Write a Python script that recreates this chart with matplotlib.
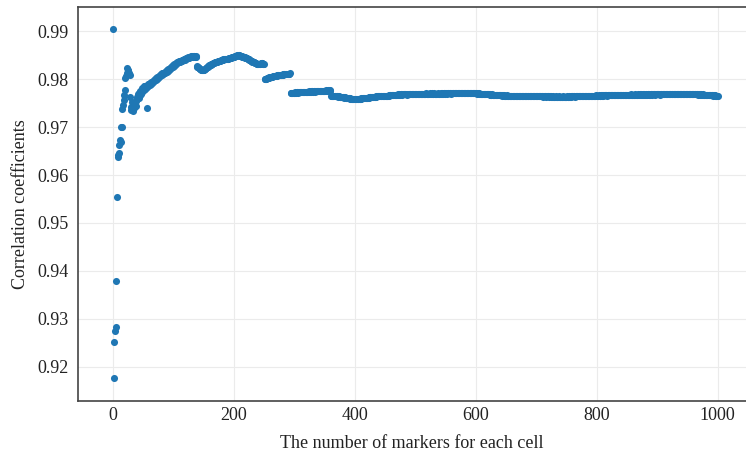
import numpy as np
import matplotlib
matplotlib.use("Agg")
import matplotlib.pyplot as plt

# number of markers per cell: 1..1000
n_markers = list(range(1, 1001))

# correlation coefficients, stored as offsets from 0.97 in units of 1e-5
corr_offset_1e5 = [
    2050, -5240, -4480, -4260, -4170, -3210, -1450, -620, -580, -530, -370, -270, -300, 0, 10, 380, 460, 560, 670, 770,
    1020, 1070, 1120, 1230, 1200, 1180, 1120, 1090, 630, 430, 360, 530, 340, 430, 480, 400, 500, 550, 450, 580,
    620, 700, 600, 720, 680, 760, 700, 820, 740, 800, 770, 850, 790, 860, 820, 390, 840, 900, 860, 910,
    880, 930, 900, 950, 920, 970, 940, 990, 960, 1000, 980, 1030, 1000, 1050, 1020, 1060, 1040, 1080, 1060, 1100,
    1080, 1120, 1100, 1140, 1120, 1160, 1140, 1180, 1160, 1200, 1180, 1220, 1200, 1240, 1220, 1260, 1240, 1280, 1260, 1290,
    1280, 1310, 1300, 1330, 1320, 1350, 1340, 1360, 1350, 1380, 1370, 1390, 1380, 1400, 1390, 1410, 1400, 1420, 1410, 1430,
    1420, 1440, 1450, 1440, 1460, 1450, 1470, 1460, 1480, 1470, 1490, 1480, 1470, 1490, 1480, 1470, 1480, 1460, 1270, 1260,
    1250, 1240, 1230, 1220, 1210, 1200, 1200, 1190, 1190, 1190, 1200, 1210, 1220, 1230, 1240, 1250, 1260, 1270, 1280, 1290,
    1300, 1300, 1310, 1320, 1320, 1330, 1340, 1340, 1350, 1350, 1360, 1370, 1370, 1380, 1380, 1390, 1390, 1390, 1400, 1400,
    1410, 1410, 1420, 1420, 1420, 1430, 1430, 1420, 1420, 1430, 1430, 1440, 1440, 1440, 1450, 1450, 1460, 1460, 1460, 1470,
    1470, 1480, 1480, 1490, 1490, 1500, 1500, 1500, 1500, 1490, 1490, 1480, 1480, 1470, 1470, 1470, 1460, 1460, 1450, 1450,
    1440, 1440, 1430, 1420, 1420, 1410, 1400, 1390, 1380, 1380, 1370, 1370, 1360, 1350, 1340, 1340, 1330, 1320, 1320, 1310,
    1310, 1310, 1320, 1320, 1330, 1330, 1330, 1320, 1320, 1310, 1000, 1000, 1010, 1010, 1020, 1020, 1030, 1030, 1040, 1040,
    1040, 1050, 1050, 1050, 1060, 1060, 1060, 1070, 1070, 1070, 1070, 1080, 1080, 1080, 1080, 1090, 1090, 1090, 1090, 1090,
    1090, 1100, 1100, 1100, 1100, 1100, 1110, 1110, 1110, 1110, 1110, 1110, 1120, 710, 710, 720, 710, 720, 720, 720,
    720, 730, 720, 730, 730, 720, 730, 730, 730, 740, 730, 730, 740, 730, 740, 740, 730, 740, 740, 740,
    740, 740, 740, 750, 740, 740, 750, 740, 750, 750, 740, 750, 750, 750, 740, 750, 750, 750, 760, 750,
    750, 750, 760, 750, 760, 760, 750, 760, 760, 760, 760, 760, 770, 760, 760, 770, 760, 770, 770, 760,
    660, 660, 650, 660, 650, 650, 650, 640, 650, 640, 640, 640, 630, 640, 630, 630, 630, 630, 620, 630,
    620, 620, 610, 620, 610, 610, 600, 610, 600, 600, 600, 590, 600, 590, 590, 580, 590, 580, 580, 580,
    580, 580, 580, 590, 580, 590, 590, 590, 590, 600, 590, 600, 600, 600, 600, 600, 610, 600, 610, 610,
    610, 610, 620, 610, 620, 620, 620, 620, 630, 620, 630, 630, 630, 630, 640, 630, 640, 640, 640, 640,
    640, 650, 640, 650, 650, 650, 650, 650, 660, 650, 660, 660, 660, 660, 660, 670, 660, 670, 670, 670,
    670, 670, 670, 680, 670, 680, 680, 680, 680, 680, 680, 690, 680, 690, 680, 690, 690, 690, 680, 690,
    690, 690, 690, 690, 690, 680, 690, 690, 690, 690, 690, 700, 690, 690, 700, 690, 690, 700, 700, 690,
    690, 700, 700, 690, 700, 700, 690, 700, 700, 700, 700, 700, 690, 700, 700, 700, 700, 710, 700, 700,
    700, 700, 700, 700, 710, 700, 700, 710, 700, 700, 710, 700, 700, 700, 700, 700, 710, 700, 700, 700,
    700, 700, 710, 700, 710, 700, 710, 710, 700, 710, 710, 710, 700, 710, 710, 710, 710, 710, 700, 710,
    710, 710, 710, 710, 720, 710, 710, 710, 710, 720, 710, 710, 720, 710, 710, 720, 710, 720, 710, 710,
    710, 720, 710, 710, 720, 710, 710, 710, 720, 710, 710, 710, 710, 720, 710, 710, 710, 710, 710, 710,
    710, 710, 700, 710, 700, 710, 700, 700, 700, 700, 690, 700, 700, 690, 700, 690, 690, 690, 690, 690,
    690, 690, 680, 690, 680, 680, 690, 680, 680, 680, 680, 670, 680, 680, 670, 680, 670, 670, 670, 670,
    670, 670, 660, 670, 670, 660, 670, 660, 660, 660, 670, 660, 660, 660, 660, 650, 660, 660, 660, 650,
    660, 650, 650, 660, 650, 650, 650, 650, 650, 660, 650, 650, 650, 650, 640, 650, 650, 650, 650, 650,
    650, 650, 640, 650, 650, 650, 640, 650, 650, 650, 640, 650, 640, 650, 650, 640, 650, 640, 640, 650,
    640, 640, 650, 640, 640, 640, 640, 650, 640, 640, 640, 630, 640, 640, 640, 640, 630, 640, 640, 640,
    640, 630, 640, 630, 640, 630, 630, 640, 630, 630, 630, 640, 630, 630, 630, 630, 640, 630, 630, 630,
    630, 630, 630, 640, 630, 630, 630, 630, 630, 630, 640, 630, 630, 630, 640, 630, 640, 630, 640, 640,
    640, 640, 640, 630, 640, 640, 640, 640, 640, 650, 640, 640, 640, 650, 640, 650, 640, 650, 650, 640,
    650, 650, 650, 650, 650, 660, 650, 650, 660, 650, 660, 660, 650, 660, 660, 660, 660, 660, 670, 660,
    660, 660, 660, 670, 660, 660, 670, 660, 670, 670, 660, 670, 670, 670, 670, 670, 660, 670, 670, 670,
    670, 670, 670, 670, 680, 670, 670, 670, 670, 680, 670, 670, 680, 670, 670, 680, 670, 680, 670, 680,
    680, 670, 680, 680, 670, 680, 680, 680, 680, 670, 680, 680, 680, 680, 680, 690, 680, 680, 680, 680,
    680, 680, 690, 680, 680, 680, 680, 690, 680, 680, 680, 690, 680, 690, 680, 680, 690, 680, 690, 680,
    690, 680, 680, 690, 690, 680, 690, 680, 690, 690, 690, 680, 690, 690, 690, 690, 680, 690, 690, 690,
    690, 690, 690, 680, 690, 690, 690, 690, 690, 700, 690, 690, 690, 690, 690, 690, 700, 690, 690, 690,
    690, 690, 700, 690, 690, 690, 690, 700, 690, 690, 690, 690, 690, 700, 690, 690, 690, 690, 700, 690,
    690, 690, 690, 690, 690, 700, 690, 690, 690, 690, 690, 690, 700, 690, 690, 690, 690, 690, 690, 690,
    690, 690, 690, 690, 690, 690, 690, 680, 690, 690, 680, 690, 680, 680, 690, 680, 680, 680, 680, 680,
    680, 680, 670, 680, 670, 670, 670, 670, 670, 670, 670, 660, 670, 670, 660, 670, 660, 660, 660, 660,
]
corr_base = 0.97

x_ticks = [0, 200, 400, 600, 800, 1000]
y_ticks = [0.92, 0.93, 0.94, 0.95, 0.96, 0.97, 0.98, 0.99]
x_label = "The number of markers for each cell"
y_label = "Correlation coefficients"

x = np.array(n_markers)
y = corr_base + np.array(corr_offset_1e5) * 1e-5

plt.rcParams['font.family'] = ['Liberation Serif', 'DejaVu Serif']
fig = plt.figure(figsize=(7.46, 4.58), dpi=100)
W, H = 746, 458
ax = fig.add_axes([78 / W, (H - 401) / H, (746 - 78) / W, (401 - 7) / H])

ax.scatter(x, y, s=26, color='#1f77b4', linewidths=0, zorder=3)

ax.set_xlim(-57.3, 1046.8)
ax.set_ylim(0.91284, 0.99508)
ax.set_xticks(x_ticks)
ax.set_yticks(y_ticks)
ax.set_xticklabels([str(t) for t in x_ticks])
ax.set_yticklabels([f"{t:.2f}" for t in y_ticks])
ax.grid(True, color='#ebebeb', linewidth=0.8, zorder=0)
ax.set_axisbelow(True)
ax.tick_params(axis='x', length=0, pad=4, labelsize=13, colors='#222222')
ax.tick_params(axis='y', length=0, pad=7, labelsize=13, colors='#222222')
ax.set_xlabel(x_label, fontsize=13, color='#222222', labelpad=8)
ax.set_ylabel(y_label, fontsize=13, color='#222222', labelpad=6)

for side in ['left', 'top', 'bottom']:
    ax.spines[side].set_color('#444444')
    ax.spines[side].set_linewidth(1.2)
ax.spines['right'].set_visible(False)

fig.savefig("out.png", dpi=100)
